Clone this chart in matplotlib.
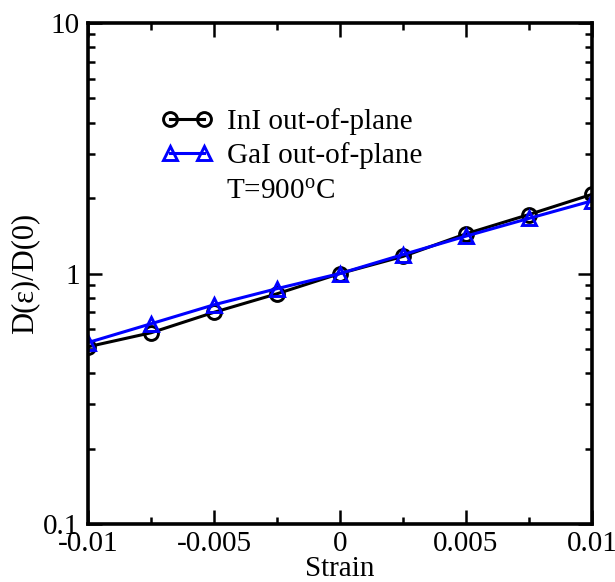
import matplotlib
matplotlib.use("Agg")
import matplotlib.pyplot as plt
from matplotlib.ticker import FixedLocator, LogLocator, NullFormatter

plt.rcParams['font.family'] = ['Liberation Serif', 'DejaVu Serif']
plt.rcParams['mathtext.fontset'] = 'custom'
plt.rcParams['mathtext.rm'] = 'Liberation Serif'
plt.rcParams['mathtext.it'] = 'Liberation Serif:italic'

strain = [-0.01, -0.0075, -0.005, -0.0025, 0.0, 0.0025, 0.005, 0.0075, 0.01]
ini_out = [0.51, 0.58, 0.70, 0.83, 1.0, 1.17, 1.44, 1.72, 2.07]
gai_out = [0.53, 0.63, 0.75, 0.87, 1.0, 1.19, 1.41, 1.66, 1.95]

xticks = [-0.01, -0.005, 0.0, 0.005, 0.01]
xticklabels = ['-0.01', '-0.005', '0', '0.005', '0.01']
yticks = [0.1, 1, 10]
yticklabels = ['0.1', '1', '10']

fig = plt.figure(figsize=(6.15, 5.82), dpi=100)
ax = fig.add_axes([88 / 615, 58 / 582, 504 / 615, 501 / 582])

ax.plot(strain, ini_out, color='black', lw=2.2, marker='o', ms=10,
        mfc='none', mec='black', mew=2.1, label='InI out-of-plane')
ax.plot(strain, gai_out, color='#0000ff', lw=2.2, marker='^', ms=10,
        mfc='none', mec='#0000ff', mew=2.1, label='GaI out-of-plane')

ax.set_yscale('log')
ax.set_xlim(-0.01, 0.01)
ax.set_ylim(0.1, 10)

ax.set_xticks(xticks)
ax.set_xticklabels(xticklabels)
ax.xaxis.set_minor_locator(FixedLocator([-0.0075, -0.0025, 0.0025, 0.0075]))
ax.set_yticks(yticks)
ax.set_yticklabels(yticklabels)
ax.yaxis.set_minor_locator(LogLocator(base=10, subs=range(2, 10)))
ax.yaxis.set_minor_formatter(NullFormatter())

ax.tick_params(which='both', direction='in', top=True, right=True,
               width=1.8, labelsize=21)
ax.tick_params(which='major', length=10)
ax.tick_params(which='minor', length=5)
ax.tick_params(axis='x', pad=5)
ax.tick_params(axis='y', pad=6)

for sp in ax.spines.values():
    sp.set_linewidth(2.6)

ax.set_xlabel('Strain', fontsize=21, labelpad=-1)
ax.set_ylabel('D(ε)/D(0)', fontsize=22, labelpad=3)

leg = ax.legend(loc='upper left', bbox_to_anchor=(0.122, 0.854), frameon=False,
                fontsize=21, numpoints=2, handlelength=1.76, handletextpad=0.5,
                labelspacing=0.26, borderaxespad=0)
ax.text(0.274, 0.664, 'T=900$^{\\mathrm{o}}$C', transform=ax.transAxes,
        fontsize=21, va='center', ha='left')

fig.savefig('out.png', dpi=100)
